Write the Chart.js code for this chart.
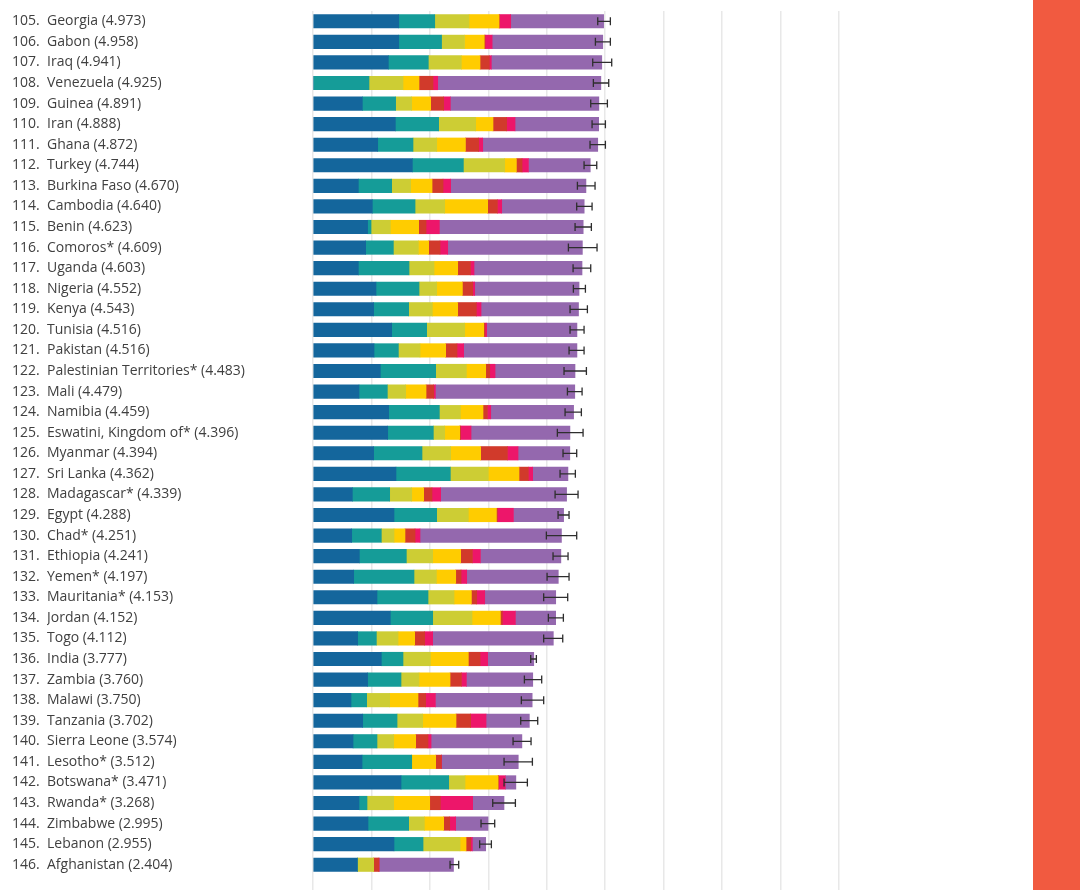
<!DOCTYPE html>
<html>
<head>
<meta charset="utf-8">
<script src="https://cdn.jsdelivr.net/npm/chart.js@4"></script>
<style>
  html, body { margin: 0; padding: 0; background: #fff; }
  #wrap { position: relative; width: 1080px; height: 890px; }
  #stripe { position: absolute; left: 1033px; top: 0; width: 47px; height: 890px; background: #f15a40; }
</style>
</head>
<body>
<div id="wrap">
  <canvas id="happyChart" width="1080" height="890"></canvas>
  <div id="stripe"></div>
</div>
<script>
const ranks = [105, 106, 107, 108, 109, 110, 111, 112, 113, 114, 115, 116, 117, 118, 119, 120, 121,
    122, 123, 124, 125, 126, 127, 128, 129, 130, 131, 132, 133, 134, 135, 136, 137, 138, 139, 140,
    141, 142, 143, 144, 145, 146];
const countries = ['Georgia', 'Gabon', 'Iraq', 'Venezuela', 'Guinea', 'Iran', 'Ghana', 'Turkey',
    'Burkina Faso', 'Cambodia', 'Benin', 'Comoros*', 'Uganda', 'Nigeria', 'Kenya', 'Tunisia',
    'Pakistan', 'Palestinian Territories*', 'Mali', 'Namibia', 'Eswatini, Kingdom of*', 'Myanmar',
    'Sri Lanka', 'Madagascar*', 'Egypt', 'Chad*', 'Ethiopia', 'Yemen*', 'Mauritania*', 'Jordan',
    'Togo', 'India', 'Zambia', 'Malawi', 'Tanzania', 'Sierra Leone', 'Lesotho*', 'Botswana*',
    'Rwanda*', 'Zimbabwe', 'Lebanon', 'Afghanistan'];
const scores = [4.973, 4.958, 4.941, 4.925, 4.891, 4.888, 4.872, 4.744, 4.670, 4.640, 4.623, 4.609,
    4.603, 4.552, 4.543, 4.516, 4.516, 4.483, 4.479, 4.459, 4.396, 4.394, 4.362, 4.339, 4.288, 4.251,
    4.241, 4.197, 4.153, 4.152, 4.112, 3.777, 3.760, 3.750, 3.702, 3.574, 3.512, 3.471, 3.268, 2.995,
    2.955, 2.404];

const gdp = [1.467, 1.467, 1.289, 0, 0.844, 1.409, 1.107, 1.700, 0.776, 1.015, 0.935, 0.901, 0.776,
    1.078, 1.038, 1.346, 1.044, 1.152, 0.787, 1.295, 1.278, 1.038, 1.420, 0.673, 1.386, 0.662, 0.793,
    0.696, 1.095, 1.323, 0.764, 1.169, 0.935, 0.650, 0.850, 0.685, 0.839, 1.506, 0.787, 0.941, 1.386,
    0.759];
const social = [0.616, 0.733, 0.684, 0.958, 0.570, 0.741, 0.604, 0.873, 0.570, 0.731, 0.058, 0.474,
    0.867, 0.736, 0.599, 0.599, 0.417, 0.947, 0.485, 0.867, 0.781, 0.827, 0.930, 0.639, 0.730, 0.507,
    0.804, 1.032, 0.873, 0.725, 0.320, 0.371, 0.571, 0.268, 0.588, 0.410, 0.850, 0.816, 0.137, 0.696,
    0.497, 0];
const health = [0.587, 0.393, 0.565, 0.582, 0.274, 0.633, 0.406, 0.707, 0.325, 0.507, 0.330, 0.428,
    0.428, 0.302, 0.405, 0.651, 0.370, 0.525, 0.314, 0.359, 0.194, 0.491, 0.650, 0.377, 0.542, 0.217,
    0.451, 0.383, 0.445, 0.673, 0.371, 0.468, 0.308, 0.394, 0.439, 0.285, 0, 0.279, 0.456, 0.268,
    0.633, 0.279];
const freedom = [0.513, 0.337, 0.320, 0.274, 0.325, 0.297, 0.491, 0.200, 0.366, 0.736, 0.485, 0.176,
    0.405, 0.440, 0.434, 0.325, 0.439, 0.331, 0.348, 0.388, 0.257, 0.513, 0.525, 0.205, 0.480, 0.188,
    0.479, 0.331, 0.297, 0.485, 0.285, 0.650, 0.531, 0.485, 0.570, 0.377, 0.410, 0.565, 0.617, 0.331,
    0.103, 0];
const generosity = [0.005, 0.015, 0.159, 0.239, 0.223, 0.234, 0.227, 0.097, 0.188, 0.166, 0.126,
    0.194, 0.217, 0.176, 0.319, 0.023, 0.194, 0.069, 0.131, 0.075, 0.017, 0.457, 0.160, 0.142, 0.017,
    0.172, 0.200, 0.091, 0.091, 0.034, 0.171, 0.200, 0.194, 0.131, 0.251, 0.211, 0.097, 0.010, 0.182,
    0.103, 0.079, 0.089];
const corruption = [0.195, 0.120, 0.034, 0.081, 0.114, 0.143, 0.069, 0.109, 0.131, 0.074, 0.228,
    0.132, 0.062, 0.035, 0.080, 0.028, 0.114, 0.091, 0.029, 0.057, 0.177, 0.182, 0.074, 0.149, 0.274,
    0.085, 0.137, 0.097, 0.137, 0.223, 0.137, 0.131, 0.085, 0.166, 0.263, 0.052, 0.005, 0.114, 0.553,
    0.102, 0.029, 0.005];
const dystopia = [1.590, 1.893, 1.890, 2.791, 2.541, 1.431, 1.968, 1.058, 2.314, 1.411, 2.461, 2.304,
    1.848, 1.785, 1.668, 1.544, 1.938, 1.368, 2.385, 1.418, 1.692, 0.886, 0.603, 2.154, 0.859, 2.420,
    1.377, 1.567, 1.215, 0.689, 2.064, 0.788, 1.136, 1.656, 0.741, 1.554, 1.311, 0.181, 0.536, 0.554,
    0.228, 1.272];

const ciLow = [4.872, 4.832, 4.786, 4.797, 4.752, 4.775, 4.740, 4.638, 4.524, 4.512, 4.484, 4.370,
    4.450, 4.455, 4.398, 4.398, 4.381, 4.295, 4.353, 4.313, 4.181, 4.278, 4.227, 4.142, 4.193, 3.993,
    4.107, 4.005, 3.947, 4.027, 3.947, 3.725, 3.617, 3.565, 3.554, 3.423, 3.269, 3.269, 3.075, 2.875,
    2.852, 2.345];
const ciHigh = [5.088, 5.088, 5.111, 5.060, 5.037, 5.003, 5.003, 4.855, 4.826, 4.775, 4.763, 4.860,
    4.752, 4.661, 4.695, 4.638, 4.638, 4.678, 4.604, 4.592, 4.621, 4.512, 4.489, 4.535, 4.381, 4.512,
    4.364, 4.381, 4.358, 4.284, 4.273, 3.822, 3.913, 3.947, 3.845, 3.731, 3.754, 3.668, 3.463, 3.109,
    3.052, 2.493];

const labels = countries.map((c, i) => c + ' (' + scores[i].toFixed(3) + ')');

const textColor = '#404040';
const labelFont = { family: 'Open Sans', size: 14 };

// rank numbers in their own column, left of the country names
const rankColumn = {
    id: 'rankColumn',
    afterDraw(chart) {
        const ctx = chart.ctx;
        const y = chart.scales.y;
        ctx.save();
        ctx.fillStyle = textColor;
        ctx.font = labelFont.size + 'px "' + labelFont.family + '"';
        ctx.textAlign = 'left';
        ctx.textBaseline = 'middle';
        ranks.forEach((r, i) => {
            ctx.fillText(r + '.', 12, y.getPixelForValue(i));
        });
        ctx.restore();
    }
};

// whiskers for the confidence interval
const whiskers = {
    id: 'whiskers',
    afterDatasetsDraw(chart) {
        const ctx = chart.ctx;
        const x = chart.scales.x;
        const y = chart.scales.y;
        ctx.save();
        ctx.strokeStyle = '#2e2e2e';
        ctx.lineWidth = 1.3;
        ciLow.forEach((lo, i) => {
            const yp = y.getPixelForValue(i);
            const x1 = x.getPixelForValue(lo);
            const x2 = x.getPixelForValue(ciHigh[i]);
            ctx.beginPath();
            ctx.moveTo(x1, yp);
            ctx.lineTo(x2, yp);
            ctx.moveTo(x1, yp - 4);
            ctx.lineTo(x1, yp + 4);
            ctx.moveTo(x2, yp - 4);
            ctx.lineTo(x2, yp + 4);
            ctx.stroke();
        });
        ctx.restore();
    }
};

const ctxHappy = document.getElementById('happyChart').getContext('2d');
const happyChart = new Chart(ctxHappy, {
    type: 'bar',
    data: {
        labels: labels,
        datasets: [
            { label: 'GDP per capita', data: gdp, backgroundColor: '#14669c' },
            { label: 'Social support', data: social, backgroundColor: '#159c98' },
            { label: 'Healthy life expectancy', data: health, backgroundColor: '#cdcd34' },
            { label: 'Freedom to make life choices', data: freedom, backgroundColor: '#ffcc00' },
            { label: 'Generosity', data: generosity, backgroundColor: '#d13a2b' },
            { label: 'Perceptions of corruption', data: corruption, backgroundColor: '#ed166a' },
            { label: 'Dystopia + residual', data: dystopia, backgroundColor: '#9468ae' }
        ]
    },
    options: {
        indexAxis: 'y',
        responsive: false,
        animation: false,
        barThickness: 13.5,
        borderWidth: 0,
        layout: {
            padding: { top: 11, left: 47, right: 241, bottom: 0 }
        },
        plugins: {
            legend: { display: false },
            tooltip: { enabled: false }
        },
        scales: {
            x: {
                stacked: true,
                min: 0,
                max: 9,
                ticks: { display: false, stepSize: 1 },
                grid: { color: '#e8e8e8', lineWidth: 1.5, drawTicks: true, tickLength: 15 },
                border: { display: false }
            },
            y: {
                stacked: true,
                grid: { display: false },
                border: { display: false },
                afterFit(axis) { axis.width = 266; },
                ticks: {
                    crossAlign: 'far',
                    color: textColor,
                    font: labelFont,
                    autoSkip: false,
                    padding: 0
                }
            }
        }
    },
    plugins: [rankColumn, whiskers]
});
</script>
</body>
</html>
